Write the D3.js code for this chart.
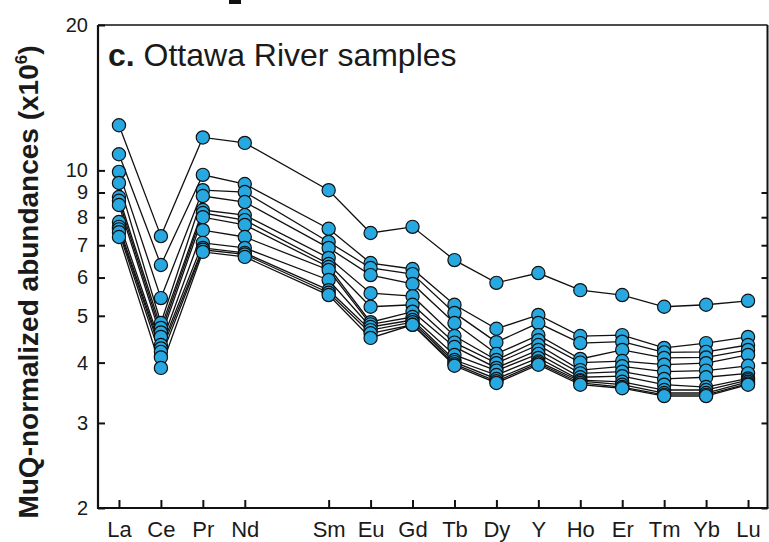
<!DOCTYPE html>
<html>
<head>
<meta charset="utf-8">
<script src="https://cdn.jsdelivr.net/npm/d3@7"></script>
<style>
  body { margin: 0; background: #fff; }
  svg { display: block; }
  text { font-family: "Liberation Sans", Arial, Helvetica, sans-serif; fill: #1a1a1a; }
</style>
</head>
<body>
<svg id="chart" width="769" height="542"></svg>
<script>
// REE + Y pattern, MuQ-normalized, Ottawa River samples
const elements = ["La", "Ce", "Pr", "Nd", "Sm", "Eu", "Gd", "Tb", "Dy", "Y", "Ho", "Er", "Tm", "Yb", "Lu"];
// slot 4 (Pm) is left empty on the axis
const elementSlots = [0, 1, 2, 3, 5, 6, 7, 8, 9, 10, 11, 12, 13, 14, 15];
const yTickValues = [2, 3, 4, 5, 6, 7, 8, 9, 10, 20];
const yTickLabels = ["2", "3", "4", "5", "6", "7", "8", "9", "10", "20"];

const sampleA = [12.4, 7.31, 11.7, 11.4, 9.10, 7.42, 7.64, 6.52, 5.85, 6.13, 5.65, 5.52, 5.22, 5.27, 5.37];
const sampleB = [10.8, 6.37, 9.79, 9.37, 7.57, 6.43, 6.25, 5.27, 4.70, 5.02, 4.54, 4.56, 4.29, 4.39, 4.52];
const sampleC = [9.93, 5.44, 9.10, 9.02, 7.11, 6.28, 6.10, 5.07, 4.41, 4.83, 4.39, 4.42, 4.20, 4.21, 4.35];
const sampleD = [9.42, 4.83, 8.85, 8.60, 6.91, 6.07, 5.82, 4.83, 4.17, 4.56, 4.07, 4.25, 4.09, 4.10, 4.25];
const sampleE = [8.81, 4.72, 8.28, 8.08, 6.59, 5.57, 5.49, 4.54, 4.05, 4.45, 4.00, 4.03, 3.96, 3.99, 4.15];
const sampleF = [8.65, 4.62, 8.16, 7.89, 6.40, 5.22, 5.27, 4.40, 3.99, 4.35, 3.86, 3.93, 3.83, 3.85, 3.94];
const sampleG = [8.48, 4.52, 8.00, 7.71, 6.31, 4.85, 5.10, 4.31, 3.90, 4.25, 3.80, 3.83, 3.70, 3.73, 3.80];
const sampleH = [7.82, 4.35, 7.52, 7.28, 6.22, 4.80, 4.97, 4.15, 3.85, 4.17, 3.73, 3.75, 3.60, 3.56, 3.71];
const sampleI = [7.64, 4.28, 7.08, 6.91, 5.93, 4.74, 4.90, 4.05, 3.77, 4.09, 3.68, 3.65, 3.51, 3.51, 3.68];
const sampleJ = [7.55, 4.21, 6.91, 6.75, 5.65, 4.67, 4.85, 4.01, 3.70, 4.02, 3.66, 3.60, 3.46, 3.46, 3.65];
const sampleK = [7.45, 4.10, 6.85, 6.70, 5.58, 4.60, 4.79, 3.97, 3.66, 3.99, 3.63, 3.56, 3.43, 3.43, 3.62];
const sampleL = [7.28, 3.90, 6.78, 6.62, 5.52, 4.50, 4.79, 3.94, 3.63, 3.96, 3.60, 3.54, 3.41, 3.41, 3.60];

const samples = [sampleA, sampleB, sampleC, sampleD, sampleE, sampleF,
                 sampleG, sampleH, sampleI, sampleJ, sampleK, sampleL];

const plot = { left: 98, right: 769, top: 25, bottom: 508 };
const frameRight = 767.5;

const svg = d3.select("#chart");

const x = d3.scaleLinear().domain([-0.5, 15.5]).range([plot.left, plot.right]);
const y = d3.scaleLog().domain([2, 20]).range([plot.bottom, plot.top]);

// fragment of the neighbouring panel above
svg.append("rect").attr("x", 229).attr("y", 0).attr("width", 12).attr("height", 4).attr("fill", "#111");

// sample lines
const line = d3.line()
  .x((d, i) => x(elementSlots[i]))
  .y(d => y(d));

svg.append("g")
  .selectAll("path")
  .data(samples)
  .join("path")
  .attr("d", line)
  .attr("fill", "none")
  .attr("stroke", "#111")
  .attr("stroke-width", 1.3);

// sample points
svg.append("g")
  .selectAll("g")
  .data(samples)
  .join("g")
  .selectAll("circle")
  .data(d => d)
  .join("circle")
  .attr("cx", (d, i) => x(elementSlots[i]))
  .attr("cy", d => y(d))
  .attr("r", 6.6)
  .attr("fill", "#27a8e0")
  .attr("stroke", "#111")
  .attr("stroke-width", 1.2);

// frame
const frame = svg.append("g").attr("stroke", "#111").attr("fill", "none");
frame.append("line").attr("x1", plot.left).attr("x2", plot.left).attr("y1", plot.top).attr("y2", plot.bottom + 1).attr("stroke-width", 2.2);
frame.append("line").attr("x1", plot.left - 1).attr("x2", frameRight + 1).attr("y1", plot.bottom).attr("y2", plot.bottom).attr("stroke-width", 2.2);
frame.append("line").attr("x1", plot.left).attr("x2", frameRight).attr("y1", plot.top).attr("y2", plot.top).attr("stroke-width", 1.6);
frame.append("line").attr("x1", frameRight).attr("x2", frameRight).attr("y1", plot.top).attr("y2", plot.bottom).attr("stroke-width", 2);

// left axis: inward ticks with labels
const yAxisLeft = d3.axisLeft(y)
  .tickValues(yTickValues)
  .tickFormat((d, i) => yTickLabels[i])
  .tickSizeInner(-7)
  .tickSizeOuter(0)
  .tickPadding(10);

const gl = svg.append("g").attr("transform", `translate(${plot.left},0)`).call(yAxisLeft);
gl.select(".domain").remove();
gl.selectAll(".tick line").attr("stroke", "#111").attr("stroke-width", 2);
gl.selectAll(".tick text")
  .attr("font-size", 20)
  .attr("font-family", "Liberation Sans, Arial, sans-serif")
  .attr("fill", "#1a1a1a");

// right axis: inward ticks, no labels
const yAxisRight = d3.axisRight(y)
  .tickValues(yTickValues.filter(v => v < 10))
  .tickFormat("")
  .tickSizeInner(-6)
  .tickSizeOuter(0);
const gr = svg.append("g").attr("transform", `translate(${frameRight},0)`).call(yAxisRight);
gr.select(".domain").remove();
gr.selectAll(".tick line").attr("stroke", "#111").attr("stroke-width", 2);

// bottom axis: inward ticks at each element
const xAxis = d3.axisBottom(x)
  .tickValues(elementSlots)
  .tickFormat((d, i) => elements[i])
  .tickSizeInner(-8)
  .tickSizeOuter(0)
  .tickPadding(13);
const gb = svg.append("g").attr("transform", `translate(0,${plot.bottom})`).call(xAxis);
gb.select(".domain").remove();
gb.selectAll(".tick line").attr("stroke", "#111").attr("stroke-width", 2);
gb.selectAll(".tick text")
  .attr("font-size", 22)
  .attr("font-family", "Liberation Sans, Arial, sans-serif")
  .attr("fill", "#1a1a1a");

// panel title
const title = svg.append("text")
  .attr("x", 108)
  .attr("y", 66)
  .attr("font-size", 32);
title.append("tspan").attr("font-weight", "bold").text("c.");
title.append("tspan").text(" Ottawa River samples");

// y-axis title
const yTitle = svg.append("text")
  .attr("transform", "translate(38,282) rotate(-90)")
  .attr("text-anchor", "middle")
  .attr("font-size", 28)
  .attr("font-weight", "bold");
yTitle.append("tspan").text("MuQ-normalized abundances (x10");
yTitle.append("tspan").attr("font-size", 17).attr("dy", -11).text("6");
yTitle.append("tspan").attr("dy", 11).text(")");
</script>
</body>
</html>
